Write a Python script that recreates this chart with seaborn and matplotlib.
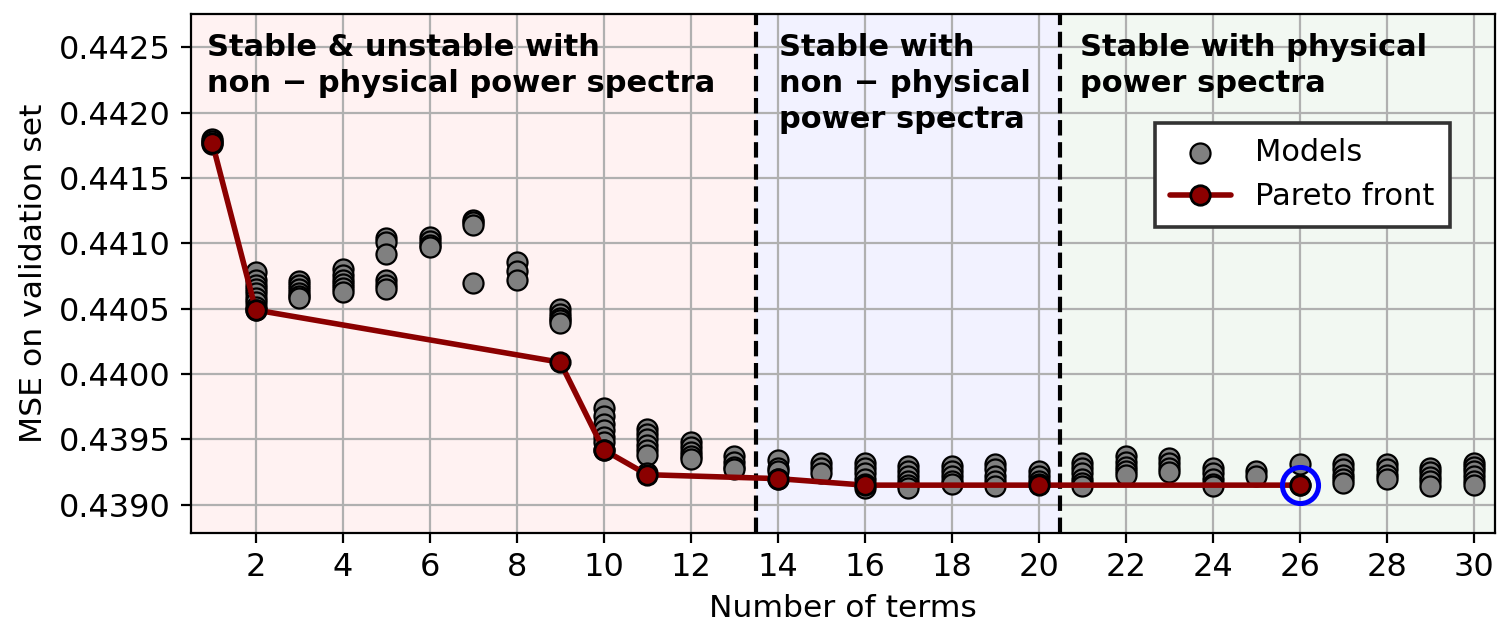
import matplotlib
matplotlib.use("Agg")
import matplotlib.pyplot as plt
import seaborn as sns
import pandas as pd

# models: number of terms -> MSE values
model_terms = [1, 2, 3, 4, 5, 6, 7, 8, 9, 10, 11, 12, 13, 14, 15, 16, 17, 18, 19, 20,
               21, 22, 23, 24, 25, 26, 27, 28, 29, 30]
model_mse = [
    [0.44180, 0.44178, 0.44176],
    [0.44078, 0.44072, 0.44068, 0.44065, 0.44062, 0.44058, 0.44055, 0.44051, 0.44049],
    [0.44071, 0.44068, 0.44065, 0.44062, 0.44060, 0.44058],
    [0.44080, 0.44076, 0.44072, 0.44069, 0.44066, 0.44063],
    [0.44104, 0.44101, 0.44092, 0.44072, 0.44068, 0.44065],
    [0.44105, 0.44102, 0.44099, 0.44097],
    [0.44118, 0.44116, 0.44114, 0.44070],
    [0.44086, 0.44079, 0.44072],
    [0.44050, 0.44046, 0.44043, 0.44041, 0.44039],
    [0.43974, 0.43968, 0.43962, 0.43957, 0.43952, 0.43948, 0.43942],
    [0.43958, 0.43954, 0.43950, 0.43946, 0.43942, 0.43938, 0.43924],
    [0.43948, 0.43944, 0.43940, 0.43937, 0.43935],
    [0.43937, 0.43933, 0.43929, 0.43927],
    [0.43934, 0.43928, 0.43926, 0.43920],
    [0.43932, 0.43928, 0.43924],
    [0.43932, 0.43928, 0.43924, 0.43920, 0.43916, 0.43913],
    [0.43930, 0.43926, 0.43922, 0.43918, 0.43915, 0.43913],
    [0.43930, 0.43926, 0.43922, 0.43918, 0.43916],
    [0.43931, 0.43927, 0.43922, 0.43918, 0.43914],
    [0.43926, 0.43922, 0.43918, 0.43916],
    [0.43932, 0.43928, 0.43924, 0.43920, 0.43917, 0.43914],
    [0.43937, 0.43933, 0.43929, 0.43926, 0.43923],
    [0.43936, 0.43932, 0.43928, 0.43925],
    [0.43928, 0.43924, 0.43920, 0.43916, 0.43914],
    [0.43926, 0.43922],
    [0.43931, 0.43915],
    [0.43931, 0.43927, 0.43923, 0.43920, 0.43917],
    [0.43931, 0.43927, 0.43923, 0.43920],
    [0.43928, 0.43925, 0.43921, 0.43918, 0.43914],
    [0.43932, 0.43929, 0.43926, 0.43922, 0.43918, 0.43915],
]

pareto_terms = [1, 2, 9, 10, 11, 14, 16, 20, 26]
pareto_mse = [0.44177, 0.44049, 0.44009, 0.43942, 0.43923, 0.43920, 0.43915, 0.43915, 0.43915]

chosen_terms = 26
chosen_mse = 0.43915

region_edges = [0.5, 13.5, 20.5, 30.5]
region_colors = ["red", "blue", "green"]
region_labels = ["Stable & unstable with\nnon \u2212 physical power spectra",
                 "Stable with\nnon \u2212 physical\npower spectra",
                 "Stable with physical\npower spectra"]
label_offsets = [0.37, 0.52, 0.45]

rows = []
for t, vals in zip(model_terms, model_mse):
    for v in vals:
        rows.append({"terms": t, "mse": v})
models = pd.DataFrame(rows)
pareto = pd.DataFrame({"terms": pareto_terms, "mse": pareto_mse})

sns.set_style("whitegrid")
plt.rcParams["font.family"] = ["DejaVu Sans"]
plt.rcParams["text.color"] = "black"
plt.rcParams["axes.labelcolor"] = "black"
plt.rcParams["xtick.color"] = "black"
plt.rcParams["ytick.color"] = "black"

fig = plt.figure(figsize=(7.56, 3.19), dpi=200)
ax = fig.add_axes([0.126, 0.165, 0.863, 0.813])

for i in range(3):
    ax.axvspan(region_edges[i], region_edges[i + 1], color=region_colors[i], alpha=0.05, lw=0, zorder=0)
for e in region_edges[1:3]:
    ax.axvline(e, color="black", ls="--", lw=1.5, zorder=1)

sns.scatterplot(data=models, x="terms", y="mse", ax=ax, color="grey", edgecolor="black",
                linewidth=0.8, s=52, label="Models", zorder=3)
sns.lineplot(data=pareto, x="terms", y="mse", ax=ax, color="darkred", lw=2, marker="o",
             markersize=7, markeredgecolor="black", markeredgewidth=1, label="Pareto front", zorder=4)
ax.plot([chosen_terms], [chosen_mse], marker="o", ms=13, mfc="none", mec="blue", mew=1.8, zorder=5)

for i in range(3):
    ax.text(region_edges[i] + label_offsets[i], 0.44261, region_labels[i], fontsize=11,
            fontweight="bold", va="top", ha="left", linespacing=1.3, zorder=6)

ax.set_xlim(0.5, 30.5)
ax.set_ylim(0.438786, 0.442754)
ax.set_xticks(range(2, 31, 2))
ax.set_yticks([0.4390, 0.4395, 0.4400, 0.4405, 0.4410, 0.4415, 0.4420, 0.4425])
ax.yaxis.set_major_formatter(matplotlib.ticker.FormatStrFormatter("%.4f"))
ax.tick_params(axis="both", labelsize=11.5, length=3.5, width=0.8, left=True, bottom=True, color="black")
ax.grid(True, color="#b0b0b0", lw=0.8)
for sp in ax.spines.values():
    sp.set_edgecolor("black")
    sp.set_linewidth(0.8)
ax.set_xlabel("Number of terms", fontsize=11.3)
ax.set_ylabel("MSE on validation set", fontsize=11.3)

leg = ax.legend(loc="upper right", bbox_to_anchor=(0.977, 0.82), fontsize=11, frameon=True,
                fancybox=False, edgecolor="#333333", framealpha=1, borderpad=0.5)
leg.get_frame().set_linewidth(1.3)

fig.savefig("out.png", dpi=200)
